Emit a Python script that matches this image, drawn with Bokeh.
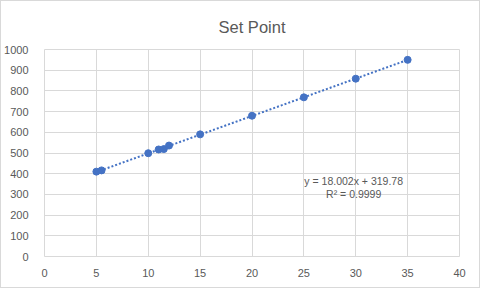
import numpy as np
from bokeh.plotting import figure
from bokeh.models import ColumnDataSource, FixedTicker, Range1d, Label
from bokeh.embed import file_html
from bokeh.resources import INLINE

x_vals = [5, 5.5, 10, 11, 11.5, 12, 15, 20, 25, 30, 35]
y_vals = [410, 416, 499, 517, 519, 536, 590, 680, 769, 859, 950]
x_ticks = [0, 5, 10, 15, 20, 25, 30, 35, 40]
y_ticks = [0, 100, 200, 300, 400, 500, 600, 700, 800, 900, 1000]
title_text = "Set Point"
eq_text = "y = 18.002x + 319.78"
r2_text = "R² = 0.9999"

FONT = "Liberation Sans"
TXT = "#595959"
GRID = "#D9D9D9"
BLUE = "#4472C4"

p = figure(frame_width=415, frame_height=207, output_backend="svg", toolbar_location=None,
           x_range=Range1d(0, 40), y_range=Range1d(0, 1000),
           min_border_left=43, min_border_right=20, min_border_top=48, min_border_bottom=31,
           styles={"border": "1px solid #D9D9D9"})

p.title.text = title_text
p.title.align = "center"
p.title.text_font = FONT
p.title.text_font_size = "16.5px"
p.title.text_font_style = "normal"
p.title.text_color = TXT
p.title.offset = 0
p.title.standoff = 28

p.background_fill_color = "white"
p.border_fill_color = "white"
p.outline_line_color = GRID

for ax in (p.xaxis[0], p.yaxis[0]):
    ax.axis_line_color = None
    ax.major_tick_line_color = None
    ax.minor_tick_line_color = None
    ax.major_label_text_font = FONT
    ax.major_label_text_font_size = "11px"
    ax.major_label_text_color = TXT

p.xaxis[0].ticker = FixedTicker(ticks=x_ticks)
p.yaxis[0].ticker = FixedTicker(ticks=y_ticks)
p.xaxis[0].major_label_standoff = 6
p.yaxis[0].major_label_standoff = 10

p.xgrid[0].ticker = FixedTicker(ticks=x_ticks)
p.ygrid[0].ticker = FixedTicker(ticks=y_ticks)
p.xgrid.grid_line_color = GRID
p.ygrid.grid_line_color = GRID

# trendline (least-squares fit across data range)
xa = np.array(x_vals, dtype=float)
ya = np.array(y_vals, dtype=float)
m, b = np.polyfit(xa, ya, 1)
tx = [xa.min(), xa.max()]
ty = [m * t + b for t in tx]
p.line(tx, ty, line_color=BLUE, line_width=2, line_dash="2 2")

src = ColumnDataSource(dict(x=x_vals, y=y_vals))
p.scatter("x", "y", source=src, size=7, fill_color=BLUE, line_color=BLUE)

p.add_layout(Label(x=29.8, y=367, text=eq_text, text_align="center", text_baseline="middle",
                   text_font=FONT, text_font_size="10.5px", text_color=TXT))
p.add_layout(Label(x=29.8, y=300, text=r2_text, text_align="center", text_baseline="middle",
                   text_font=FONT, text_font_size="10.5px", text_color=TXT))

open("out.html", "w").write(file_html(p, INLINE))
